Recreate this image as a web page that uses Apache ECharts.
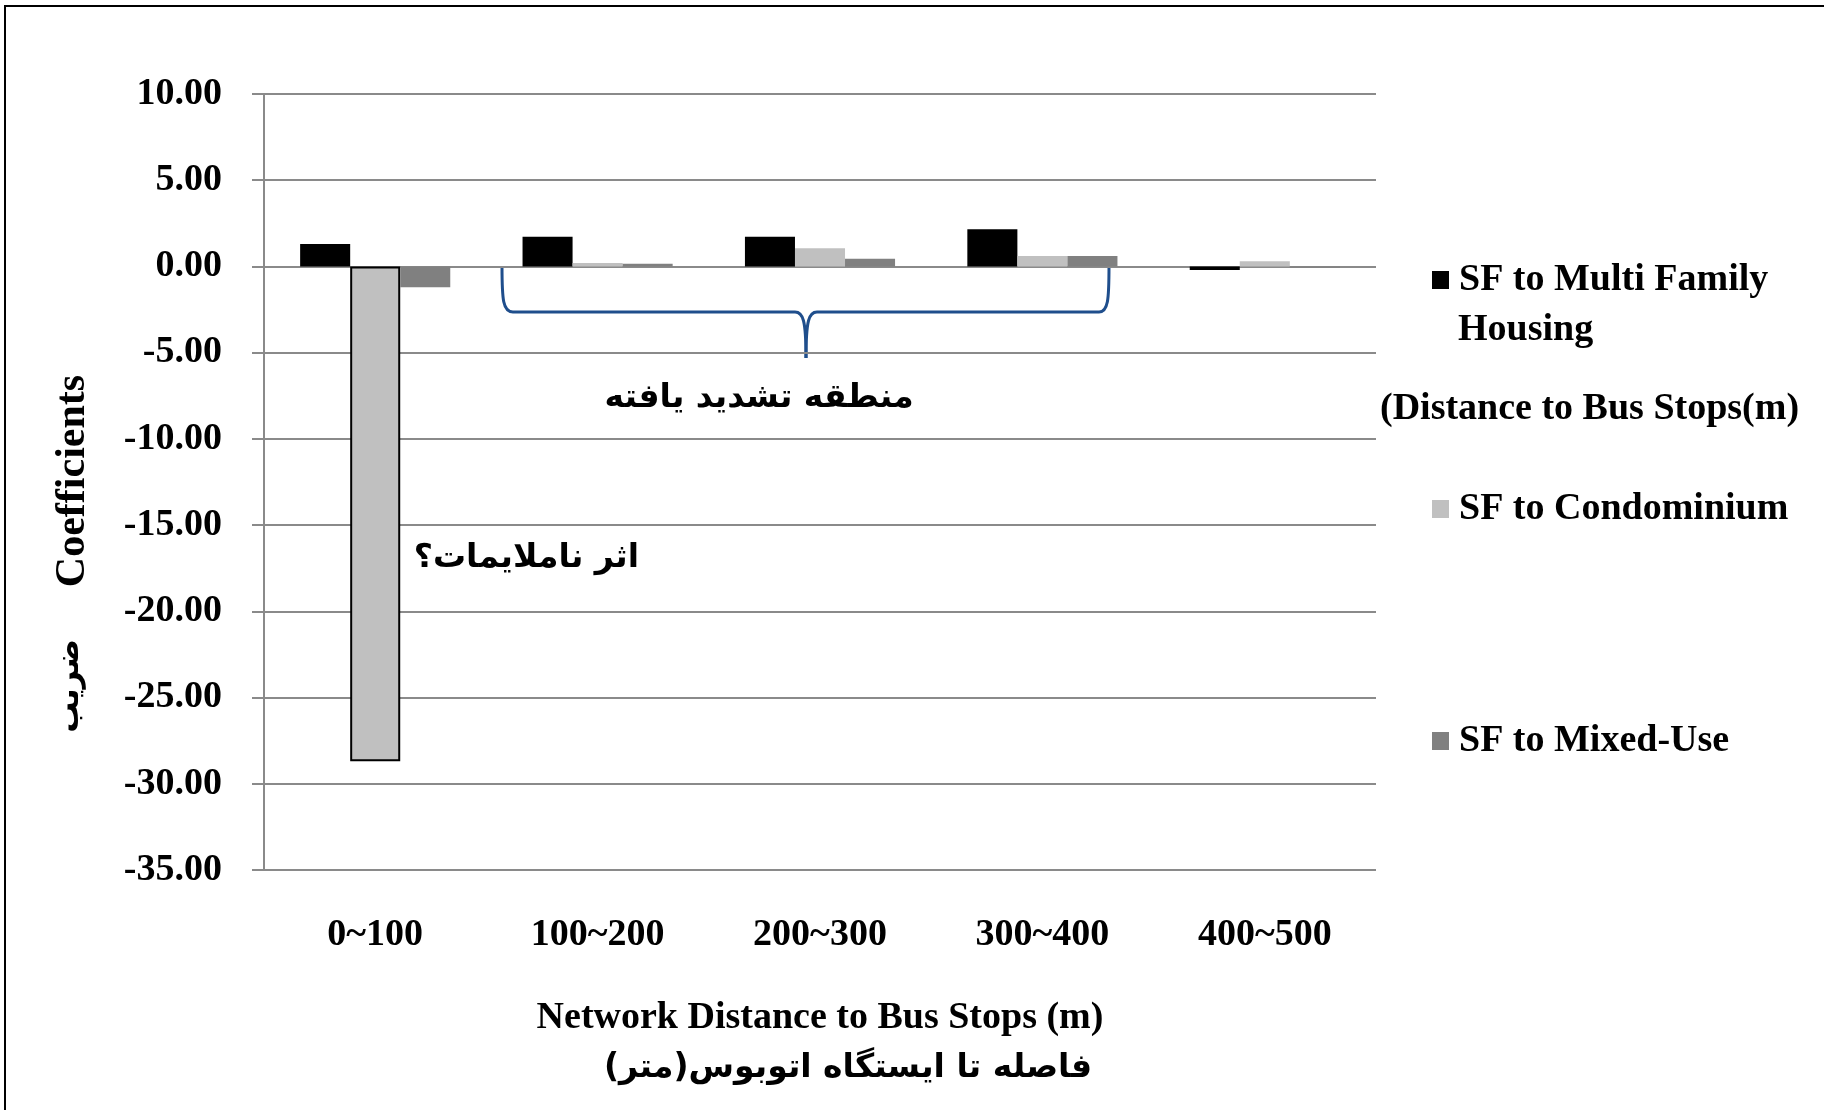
<!DOCTYPE html>
<html>
<head>
<meta charset="utf-8">
<script src="https://cdn.jsdelivr.net/npm/echarts@6/dist/echarts.min.js"></script>
<style>
  html, body { margin: 0; padding: 0; background: #fff; }
  #chart { width: 1824px; height: 1110px; }
</style>
</head>
<body>
<div id="chart"></div>
<script>
// distance bands along the network
const bands = ['0~100', '100~200', '200~300', '300~400', '400~500']
const seriesNames = ['SF to Multi Family Housing', 'SF to Condominium', 'SF to Mixed-Use']
// coefficients
const multiFamily = [1.30, 1.72, 1.72, 2.15, -0.20]
const condominium = [-28.7, 0.20, 1.05, 0.60, 0.30]
const mixedUse = [-1.20, 0.15, 0.45, 0.60, -0.08]
const yTicks = [10, 5, 0, -5, -10, -15, -20, -25, -30, -35]

const serif = '"Liberation Serif", "Times New Roman", serif'
const persian = '"DejaVu Sans", sans-serif'
const grey = '#8a8a8a'
const braceBlue = '#1f4e8c'

const chart = echarts.init(document.getElementById('chart'))

const legendText = { fontFamily: serif, fontSize: 38, fontWeight: 'bold', color: '#000', lineHeight: 44, padding: [0, 0, 0, 5] }
const mkLegend = (name, top, label) => ({
  data: [name], left: 1432, top: top, orient: 'vertical', padding: 0,
  itemWidth: 17, itemHeight: 18, icon: 'rect',
  selectedMode: false,
  formatter: () => label,
  textStyle: legendText
})

// curly brace pieces (annotation, pixel space)
const braceStyle = { fill: 'none', stroke: braceBlue, lineWidth: 3 }
const curve = (x1, y1, c1x, c1y, c2x, c2y, x2, y2) => ({
  type: 'bezierCurve', silent: true, style: braceStyle,
  shape: { x1, y1, cpx1: c1x, cpy1: c1y, cpx2: c2x, cpy2: c2y, x2, y2 }
})
const seg = (x1, y1, x2, y2) => ({ type: 'line', silent: true, style: braceStyle, shape: { x1, y1, x2, y2 } })

const option = {
  animation: false,
  backgroundColor: '#fff',
  grid: { left: 264, right: 448, top: 94, bottom: 240 },
  legend: [
    mkLegend(seriesNames[0], 258, 'SF to Multi Family'),
    mkLegend(seriesNames[1], 487, 'SF to Condominium'),
    mkLegend(seriesNames[2], 719, 'SF to Mixed-Use')
  ],
  xAxis: {
    type: 'category',
    data: bands,
    axisLine: { show: false, onZero: false },
    axisTick: { show: false },
    axisLabel: { margin: 46, fontFamily: serif, fontSize: 38, fontWeight: 'bold', color: '#000' },
    name: 'Network Distance to Bus Stops (m)',
    nameLocation: 'middle',
    nameGap: 129,
    nameTextStyle: { fontFamily: serif, fontSize: 38, fontWeight: 'bold', color: '#000' }
  },
  yAxis: {
    type: 'value',
    min: yTicks[yTicks.length - 1],
    max: yTicks[0],
    interval: 5,
    axisLine: { show: true, lineStyle: { color: grey, width: 2 } },
    axisTick: { show: true, length: 12, inside: false, lineStyle: { color: grey, width: 2 } },
    splitLine: { lineStyle: { color: grey, width: 2 } },
    axisLabel: {
      margin: 42,
      fontFamily: serif, fontSize: 38, fontWeight: 'bold', color: '#000',
      formatter: v => v.toFixed(2)
    }
  },
  series: [
    { name: seriesNames[0], type: 'bar', data: multiFamily, itemStyle: { color: '#000000' },
      barGap: '0%', barCategoryGap: '32.5%' },
    { name: seriesNames[1], type: 'bar', itemStyle: { color: '#c0c0c0' },
      data: condominium.map((v, i) => i === 0 ? { value: v, itemStyle: { borderColor: '#000', borderWidth: 2 } } : v) },
    { name: seriesNames[2], type: 'bar', data: mixedUse, itemStyle: { color: '#808080' } }
  ],
  graphic: [
    // outer frame
    { type: 'rect', shape: { x: 5, y: 6, width: 1840, height: 1130 }, style: { fill: 'none', stroke: '#000', lineWidth: 2 }, silent: true },
    // curly brace over 100~400
    curve(502, 266, 502, 300, 503, 312, 513, 312),
    seg(513, 312, 795, 312),
    curve(795, 312, 803, 312, 806, 320, 806, 358),
    curve(806, 358, 806, 320, 809, 312, 817, 312),
    seg(817, 312, 1099, 312),
    curve(1099, 312, 1108, 312, 1109, 300, 1109, 266),
    { type: 'text', x: 759, y: 398, style: { text: 'منطقه تشدید یافته', font: 'bold 33px ' + persian, fill: '#000', align: 'center', verticalAlign: 'middle' } },
    { type: 'text', x: 639, y: 558, style: { text: 'اثر ناملایمات؟', font: 'bold 33px ' + persian, fill: '#000', align: 'right', verticalAlign: 'middle' } },
    // legend extras
    { type: 'text', x: 1458, y: 330, style: { text: 'Housing', font: 'bold 38px ' + serif, fill: '#000', align: 'left', verticalAlign: 'middle' } },
    { type: 'text', x: 1380, y: 409, style: { text: '(Distance to Bus Stops(m)', font: 'bold 38px ' + serif, fill: '#000', align: 'left', verticalAlign: 'middle' } },
    // persian x title
    { type: 'text', x: 848, y: 1068, style: { text: 'فاصله تا ایستگاه اتوبوس(متر)', font: 'bold 33px ' + persian, fill: '#000', align: 'center', verticalAlign: 'middle' } },
    // y axis titles (rotated)
    { type: 'text', x: 73, y: 481, rotation: Math.PI / 2, style: { text: 'Coefficients', font: 'bold 42px ' + serif, fill: '#000', align: 'center', verticalAlign: 'middle' } },
    { type: 'text', x: 70, y: 686, rotation: Math.PI / 2, style: { text: 'ضریب', font: 'bold 31px ' + persian, fill: '#000', align: 'center', verticalAlign: 'middle' } }
  ]
}

chart.setOption(option)
</script>
</body>
</html>
